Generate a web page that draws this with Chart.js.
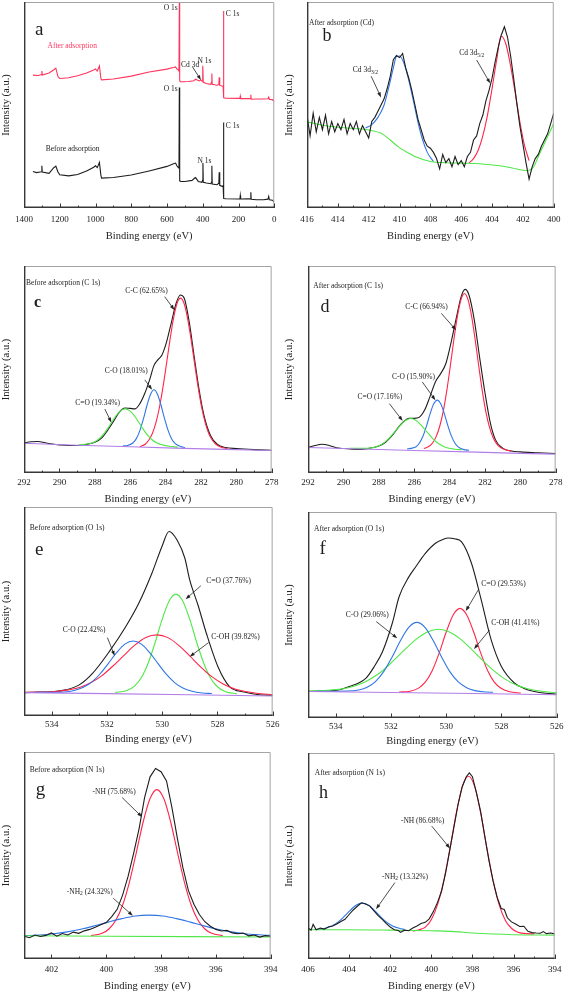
<!DOCTYPE html>
<html>
<head>
<meta charset="utf-8">
<script src="https://cdn.jsdelivr.net/npm/chart.js@4.4.0/dist/chart.umd.min.js"></script>
<style>
  body { margin: 0; background: #fff; width: 567px; height: 992px; position: relative; overflow: hidden; }
  canvas { position: absolute; }
</style>
</head>
<body>
<canvas id="pa"></canvas>
<canvas id="pb"></canvas>
<canvas id="pc"></canvas>
<canvas id="pd"></canvas>
<canvas id="pe"></canvas>
<canvas id="pf"></canvas>
<canvas id="pg"></canvas>
<canvas id="ph"></canvas>
<script>
// ---- data: [binding energy (eV), intensity (a.u., 0-100 of frame)] ----

// (a) survey spectra
const surveyBefore = [[1350,17.7],[1330,17.2],[1310,17.5],[1302,17.6],[1300,20.5],[1298,17.4],[1260,16.8],[1235,19.5],[1222,20.3],[1210,17.5],[1200,16.1],[1150,15.6],[1100,16.3],[1050,18],[1010,19.8],[1000,20.5],[990,19.6],[978,22.1],[970,16],[966,14.5],[900,14.8],[800,16],[700,18],[600,20.2],[560,21.6],[552,21.8],[545,20.5],[535,19.5],[533,20],[531,58.5],[529,13.2],[522,12.9],[500,12.9],[460,13.4],[442,14.8],[438,14.5],[425,12.9],[405,12.5],[401,13.5],[399,21.8],[397,12.5],[380,12.1],[355,11.8],[351,12.5],[349,20.5],[347,11.6],[320,11.3],[310,12],[308,17.3],[305,11],[292,10.5],[286,10.8],[284,41.5],[282,4.6],[270,4.5],[200,4.4],[192,4.5],[190,6.1],[188,4.4],[140,4.5],[133,4.4],[131,7.6],[129,4.2],[100,4.0],[60,4.0],[35,4.3],[31,5.6],[27,4],[10,3.8],[0,2.9]];
const surveyAfter = [[1350,64.5],[1320,64.3],[1302,64.8],[1300,66.5],[1298,64.6],[1260,65.5],[1235,67],[1222,67.9],[1210,63.8],[1200,62.9],[1150,63.2],[1100,64.2],[1050,65.5],[1010,67],[1000,67.5],[990,66.5],[978,69],[970,63],[966,62.2],[900,62.6],[800,64],[700,66],[600,67.4],[560,68.3],[552,68.5],[545,67.5],[535,66.8],[533,66.5],[531,99.5],[529,62],[526,61.3],[510,61.3],[480,61.4],[450,61.8],[440,62.5],[420,61.7],[410,62.2],[404,61.5],[401,62.5],[399,69],[397,61],[380,60.4],[355,60],[351,61],[349,65.3],[347,60],[320,59.6],[310,60],[308,63.4],[305,59.5],[292,59.2],[286,59],[284,95.6],[282,53.5],[270,53.3],[200,53.2],[192,53.3],[190,54.3],[188,53.1],[140,53.1],[133,53],[131,55],[129,52.8],[100,52.9],[60,52.9],[35,53],[31,53.8],[27,52.7],[10,52.6],[0,51.6]];

// (b) Cd 3d after adsorption
const cdRaw = [[416,45],[415.8,35],[415.6,46],[415.4,37],[415.2,44],[415,38],[414.8,45],[414.6,36],[414.4,42],[414.2,37],[414,41],[413.8,38],[413.6,43],[413.4,36],[413.2,41],[413,38],[412.8,42],[412.6,36],[412.4,40],[412.2,37],[412,34],[411.8,42],[411.6,44],[411.4,47],[411.2,50],[411,53],[410.8,58],[410.6,64],[410.4,72],[410.2,74],[410,73],[409.8,75],[409.6,68],[409.4,63],[409.2,57],[409,50],[408.8,43],[408.6,38],[408.4,33],[408.2,30],[408,29],[407.8,27],[407.6,24],[407.4,19],[407.2,26],[407,22],[406.8,24],[406.6,20],[406.4,25],[406.2,21],[406,23],[405.8,20],[405.6,25],[405.4,27],[405.2,33],[405,35],[404.8,41],[404.6,45],[404.4,52],[404.2,57],[404,63],[403.8,71],[403.6,78],[403.4,84],[403.2,88],[403,83],[402.8,74],[402.6,63],[402.4,51],[402.2,40],[402,31],[401.8,22],[401.6,14],[401.4,20],[401.2,24],[401,26],[400.8,30],[400.6,33],[400.4,36],[400.2,41],[400,46]];
const cdFit32 = [[412.2,38.8],[411.8,40.5],[411.4,44],[411,50],[410.7,58.5],[410.4,68],[410.2,73.5],[410,73.8],[409.7,70],[409.4,62],[409.1,52],[408.8,41.5],[408.5,33],[408.2,27],[407.8,22.5]];
const cdFit52 = [[405.5,21.9],[405.2,24],[404.9,28],[404.6,35],[404.3,45],[404,58],[403.7,72],[403.42,83.5],[403.1,79.5],[402.8,69],[402.5,56],[402.2,42],[401.9,30.5],[401.6,23]];
const cdBack = [[416,41.8],[415,40.2],[414,39.2],[413,38.6],[412,37.9],[411.2,36.3],[410.6,33],[410.1,29.8],[409.5,27],[409,25],[408,22.6],[407,22],[406,21.8],[404.8,21.5],[403.5,20.5],[402.7,19.4],[401.7,18.2],[401.3,20],[401,25],[400.5,33],[400,41]];

// (c) C 1s before adsorption
const c1sBefore = [[292,14.5],[291.6,15.1],[291.2,15.2],[290.8,14.6],[290.4,14],[290,13.6],[289.5,13.3],[289,13.3],[288.5,13.8],[288,14.8],[287.6,17],[287.2,21.5],[286.9,25.5],[286.6,29.5],[286.3,31.4],[286,31.2],[285.72,31],[285.45,33.5],[285.17,38.5],[284.9,45],[284.65,52],[284.4,55],[284.2,57],[283.96,62.7],[283.68,72.3],[283.4,82],[283.16,86],[282.94,84.4],[282.66,73],[282.38,56.3],[282.1,40.2],[281.83,28],[281.45,18],[281.08,13.9],[280.6,12.3],[280,11.8],[279,11.3],[278,11]];
const c1sBeforeCC = [[285.45,12.7],[285.15,13.9],[284.95,15.8],[284.75,19],[284.55,24.1],[284.35,31.4],[284.15,41.1],[283.95,52.4],[283.75,64.2],[283.55,74.6],[283.35,81.9],[283.15,84.5],[282.95,81.9],[282.75,74.6],[282.55,64.2],[282.35,52.4],[282.15,41.1],[281.95,31.4],[281.75,24.1],[281.55,19],[281.35,15.8],[281.15,13.9],[280.85,12.4],[280.5,11.8]];
const c1sBeforeCO = [[286.4,13.1],[286.15,13.3],[285.85,14.5],[285.65,16.6],[285.45,20.5],[285.25,26.1],[285.05,32.6],[284.85,37.9],[284.65,40.2],[284.45,37.9],[284.25,32.6],[284.05,26.1],[283.85,20.5],[283.65,16.4],[283.45,14.2],[283.15,12.8],[282.9,12.3]];
const c1sBeforeCdO = [[288.9,13.6],[288.38,14],[288.08,14.7],[287.78,16.3],[287.48,19],[287.18,22.7],[286.88,26.7],[286.58,29.8],[286.28,31],[285.98,29.8],[285.68,26.7],[285.38,22.7],[285.08,19],[284.78,16.2],[284.48,14.5],[284.18,13.6],[283.78,12.9],[283.3,12.5]];
const c1sBeforeBase = [[292,14.4],[289,13.4],[286,12.7],[283,11.9],[280,11.3],[278,10.9]];

// (d) C 1s after adsorption
const c1sAfter = [[292,12.3],[291.6,13.3],[291.2,13.9],[290.8,13.3],[290.4,12.2],[290,11.8],[289.5,11.5],[289,11.4],[288.5,12],[288,13],[287.6,15],[287.2,18.5],[286.9,22],[286.6,24.8],[286.3,26.4],[286,26.4],[285.7,27],[285.4,30.5],[285.1,37],[284.8,44],[284.5,48],[284.2,53],[283.9,63.5],[283.6,75.5],[283.35,85],[283.12,88.7],[282.9,86],[282.6,74],[282.3,56],[282,39],[281.7,24.5],[281.4,16],[281,12],[280.5,10.6],[280,10.2],[279,9.8],[278,9.4]];
const c1sAfterCC = [[285.45,11.8],[285.15,12.9],[284.95,14.6],[284.75,17.7],[284.55,22.7],[284.35,30],[284.15,40],[283.95,52],[283.75,64.6],[283.55,75.9],[283.35,83.8],[283.15,86.7],[282.95,83.6],[282.75,75.7],[282.55,64.4],[282.35,51.8],[282.15,39.8],[281.95,29.8],[281.75,22.4],[281.55,17.4],[281.35,14.3],[281.15,12.5],[280.85,11.2],[280.5,10.6]];
const c1sAfterCO = [[286.4,11.6],[286.19,11.9],[285.89,12.7],[285.69,14.6],[285.49,18],[285.29,23],[285.09,28.8],[284.89,33.4],[284.69,35.2],[284.49,33.3],[284.29,28.6],[284.09,22.8],[283.89,17.8],[283.69,14.4],[283.49,12.5],[283.19,11.3],[282.9,11]];
const c1sAfterCdO = [[289.7,11.9],[288.69,11.9],[288.29,12.3],[287.99,13.2],[287.69,14.7],[287.39,17],[287.09,20],[286.79,23],[286.49,25.4],[286.19,26.3],[285.89,25.4],[285.59,23],[285.29,20],[284.99,17],[284.69,14.6],[284.39,13.1],[284.09,12.1],[283.69,11.5],[283.3,11.2]];
const c1sAfterBase = [[292,12.3],[289,11.6],[286,10.9],[283,10.2],[280,9.5],[278,9.1]];

// (e) O 1s before adsorption
const o1sBefore = [[535,11.2],[534.5,11.4],[534,11.6],[533.5,12.5],[533,14.9],[532.52,20.4],[531.92,30.7],[531.32,42.7],[530.85,53.8],[530.37,68.3],[530.01,81],[529.75,88.3],[529.45,84],[529.18,75.6],[529,65],[528.7,53],[528.4,39.6],[527.98,23.6],[527.56,14.1],[527.03,11.5],[526.5,10.2],[526,9.9]];
const o1sBeforeCdO = [[531.7,11.3],[531.3,12.1],[531,14.3],[530.75,18.4],[530.5,25.5],[530.25,35.3],[530,46.2],[529.75,54.9],[529.5,58.3],[529.25,54.9],[529,46.2],[528.75,35.3],[528.5,25.5],[528.25,18.2],[528,14],[527.7,11.6],[527.3,10.6]];
const o1sBeforeCO = [[534.6,11.3],[533.55,11.5],[533.15,12.3],[532.85,13.7],[532.55,16.2],[532.25,20.1],[531.95,25.1],[531.65,30.3],[531.35,34.4],[531.05,35.9],[530.75,34.4],[530.45,30.3],[530.15,25.1],[529.85,20],[529.55,16],[529.25,13.4],[528.95,12],[528.55,11],[528.2,10.8]];
const o1sBeforeCOH = [[535,11.3],[534.39,11.4],[533.79,11.8],[533.39,12.5],[532.99,13.6],[532.59,15.9],[532.19,19.2],[531.79,23.8],[531.39,28.9],[530.99,33.9],[530.59,37.6],[530.19,38.8],[529.79,37.5],[529.39,33.7],[528.99,28.6],[528.59,23.3],[528.19,18.7],[527.79,15.3],[527.39,13],[526.99,11.7],[526.59,10.9],[526,10.2]];
const o1sBeforeBase = [[535,11.2],[532,10.7],[529,10.2],[526,9.6]];

// (f) O 1s after adsorption
const o1sAfter = [[535,12.9],[534.5,13.1],[534,13.4],[533.5,15.3],[532.9,19.4],[532.6,25],[532.3,32.3],[531.95,46],[531.7,59],[531.35,68.5],[531.1,73.4],[530.76,79.8],[530.4,84.7],[530.1,86.8],[529.92,87.4],[529.7,87],[529.44,85.5],[529.08,75],[528.73,57.3],[528.37,37.9],[528,25],[527.53,17],[527.2,14.5],[526.81,12.9],[526.4,12],[526,11.6]];
const o1sAfterCO = [[534.7,13],[533.56,13.1],[533.16,13.6],[532.86,14.9],[532.56,17.7],[532.26,22.5],[531.96,29.5],[531.66,37.4],[531.36,43.9],[531.06,46.4],[530.76,43.9],[530.46,37.4],[530.16,29.5],[529.86,22.4],[529.56,17.5],[529.26,14.7],[528.96,13.3],[528.56,12.6],[528.3,12.5]];
const o1sAfterCOH = [[535,13.1],[534.48,13.3],[533.88,13.9],[533.48,14.9],[533.08,16.6],[532.68,19.4],[532.28,23.2],[531.88,28.2],[531.48,33.4],[531.08,38.3],[530.68,41.8],[530.28,43.1],[529.88,41.8],[529.48,38.3],[529.08,33.3],[528.68,28],[528.28,23],[527.88,19],[527.48,16.1],[527.08,14.3],[526.68,13.2],[526,12.2]];
const o1sAfterCdO = [[531.7,12.6],[531.3,13],[531,14.5],[530.75,17.5],[530.5,23.1],[530.25,31.6],[530,41.6],[529.75,49.9],[529.5,53.2],[529.25,49.9],[529,41.6],[528.75,31.6],[528.5,23.1],[528.25,17.3],[528,14.3],[527.7,12.7],[527.3,12.1]];
const o1sAfterBase = [[535,12.9],[532,12.4],[529,11.9],[526,11.3]];

// (g) N 1s before adsorption
const n1sBefore = [[403,11],[402.8,10.3],[402.6,11.6],[402.4,10.9],[402.2,11.4],[402,12.6],[401.8,11],[401.6,12.3],[401.4,11.6],[401.2,13],[401,12.4],[400.8,13.6],[400.6,14.3],[400.4,15.3],[400.2,16.6],[400,17.6],[399.8,20.5],[399.6,24],[399.4,31],[399.2,40],[399,51],[398.8,63],[398.6,78],[398.4,88],[398.2,92],[398,90.5],[397.8,86],[397.6,73],[397.4,58],[397.2,44],[397,33],[396.8,26.5],[396.6,21.5],[396.4,18],[396.2,15.8],[396,14.3],[395.8,13.5],[395.6,13.8],[395.4,12.6],[395.2,12.2],[395,12.5],[394.8,11.2],[394.6,11.6],[394.4,10.6],[394.2,11.3],[394,11]];
const n1sBeforeNH = [[400.55,11.3],[400.15,12.4],[399.9,14.5],[399.65,18.7],[399.4,26.1],[399.15,37.3],[398.9,51.5],[398.65,66.3],[398.4,77.5],[398.15,81.8],[397.9,77.5],[397.65,66.3],[397.4,51.5],[397.15,37.3],[396.9,26.1],[396.65,18.7],[396.4,14.5],[396.15,12.4],[395.75,11.3]];
const n1sBeforeNH2 = [[403,11.3],[402.43,11.6],[401.93,12.2],[401.43,13.1],[400.93,14.4],[400.43,16],[399.93,17.8],[399.43,19.5],[398.93,20.8],[398.43,21.2],[397.93,20.8],[397.43,19.5],[396.93,17.8],[396.43,16],[395.93,14.4],[395.43,13.1],[394.93,12.2],[394.43,11.7],[394,11.4]];
const n1sBeforeBase = [[403,11.2],[400,11],[397,10.8],[394,10.6]];

// (h) N 1s after adsorption
const n1sAfter = [[406,15.2],[405.85,14],[405.75,16.8],[405.6,14.2],[405.4,15],[405.2,14.5],[405,15.7],[404.8,16],[404.6,17],[404.4,18.2],[404.2,19.3],[404,21.6],[403.8,23.8],[403.6,25.6],[403.4,27.3],[403.2,26.7],[403,25.8],[402.8,23.5],[402.6,21.2],[402.4,19.4],[402.2,17.3],[402,15.5],[401.8,14.2],[401.6,13.8],[401.5,12.9],[401.3,14],[401.1,13.7],[400.9,15],[400.7,16],[400.5,17.2],[400.3,17.8],[400.1,19.5],[399.9,23],[399.7,27.5],[399.5,33],[399.3,42],[399.1,53],[398.9,64],[398.7,75],[398.5,83.5],[398.3,88.5],[398.15,90.3],[398,88.5],[397.8,80.5],[397.6,71.5],[397.4,59.5],[397.2,48],[397,38],[396.8,30],[396.6,24.5],[396.45,24],[396.3,20],[396.1,18],[395.9,17],[395.7,15.8],[395.5,15.9],[395.3,13.4],[395.1,12.8],[394.9,12.6],[394.7,12.5],[394.55,13.3],[394.4,12.3],[394.2,12.6],[394,12.2]];
const n1sAfterNH = [[400.9,13.6],[400.59,14.2],[400.29,15.5],[399.99,19.3],[399.69,26.6],[399.39,38.2],[399.09,53.8],[398.79,70.6],[398.49,83.8],[398.19,88.7],[397.89,83.7],[397.59,70.4],[397.29,53.5],[396.99,37.8],[396.69,26],[396.39,18.6],[396.09,14.8],[395.79,13],[395.4,12.3],[395,12.2]];
const n1sAfterNH2 = [[405.7,14.3],[405.46,14.4],[405.16,14.9],[404.86,15.9],[404.56,17.7],[404.26,20.4],[403.96,23.5],[403.66,26.1],[403.36,27.1],[403.06,26.1],[402.76,23.5],[402.46,20.4],[402.16,17.7],[401.86,15.9],[401.56,14.9],[401.3,14.3]];
const n1sAfterBase = [[406,14.2],[404,14.2],[402,14],[400,13.7],[399,13.4],[398,12.6],[397,12.1],[396,11.8],[394,11.6]];

// ---- styling ----
const SERIF = '"Liberation Serif", "Times New Roman", serif';
const INK = '#1d1d1d';
const RED = 'rgb(255,36,72)';
const BLUE = 'rgb(48,118,228)';
const GREEN = 'rgb(80,232,72)';
const PURPLE = 'rgb(178,126,232)';

function series(pts, color, smooth) {
  return {
    data: pts.map(p => ({ x: p[0], y: p[1] })),
    borderColor: color,
    borderWidth: 1.1,
    pointRadius: 0,
    fill: false,
    tension: 0,
    cubicInterpolationMode: smooth ? 'monotone' : 'default'
  };
}

// frame, inward ticks, peak labels and arrows
const decor = {
  id: 'decor',
  afterDraw(chart, args, o) {
    const { ctx, chartArea: a } = chart;
    const x = chart.scales.x, y = chart.scales.y;
    ctx.save();

    ctx.strokeStyle = '#a4a4a4';
    ctx.lineWidth = 1;
    ctx.beginPath();
    ctx.moveTo(a.left, a.top + 0.5);
    ctx.lineTo(a.right - 0.5, a.top + 0.5);
    ctx.lineTo(a.right - 0.5, a.bottom);
    ctx.stroke();

    ctx.strokeStyle = '#383838';
    ctx.lineWidth = 1.4;
    ctx.beginPath();
    ctx.moveTo(a.left + 0.7, a.top);
    ctx.lineTo(a.left + 0.7, a.bottom - 0.7);
    ctx.lineTo(a.right, a.bottom - 0.7);
    ctx.stroke();

    ctx.lineWidth = 1;
    ctx.beginPath();
    for (let v = Math.ceil(x.min / o.minor) * o.minor; v <= x.max + 1e-9; v += o.minor) {
      const px = Math.round(x.getPixelForValue(v)) + 0.5;
      const major = Math.abs(v / o.major - Math.round(v / o.major)) < 1e-6;
      ctx.moveTo(px, a.bottom);
      ctx.lineTo(px, a.bottom - (major ? 4.5 : 2.5));
    }
    ctx.stroke();

    ctx.textBaseline = 'middle';
    ctx.textAlign = 'left';
    (o.labels || []).forEach(l => {
      const size = l.size || 7.5;
      const main = `${l.bold ? 'bold ' : ''}${size}px ${SERIF}`;
      const small = `5.5px ${SERIF}`;
      ctx.font = main;
      let w = ctx.measureText(l.t).width;
      ctx.font = small;
      const ws = l.sub ? ctx.measureText(l.sub).width : 0;
      ctx.font = main;
      const wt = l.tail ? ctx.measureText(l.tail).width : 0;
      let px = x.getPixelForValue(l.x);
      const py = y.getPixelForValue(l.y);
      if (l.align === 'right') px -= w + ws + wt;
      ctx.fillStyle = l.color || INK;
      ctx.fillText(l.t, px, py);
      if (l.sub) {
        ctx.font = small;
        ctx.fillText(l.sub, px + w, py + 2.2);
        ctx.font = main;
      }
      if (l.tail) ctx.fillText(l.tail, px + w + ws, py);
    });

    ctx.strokeStyle = '#222';
    ctx.fillStyle = '#222';
    ctx.lineWidth = 0.8;
    (o.arrows || []).forEach(r => {
      const x1 = x.getPixelForValue(r[0]), y1 = y.getPixelForValue(r[1]);
      const x2 = x.getPixelForValue(r[2]), y2 = y.getPixelForValue(r[3]);
      const ang = Math.atan2(y2 - y1, x2 - x1);
      ctx.beginPath();
      ctx.moveTo(x1, y1);
      ctx.lineTo(x2 - 3 * Math.cos(ang), y2 - 3 * Math.sin(ang));
      ctx.stroke();
      ctx.beginPath();
      ctx.moveTo(x2, y2);
      ctx.lineTo(x2 - 5 * Math.cos(ang) + 1.8 * Math.sin(ang), y2 - 5 * Math.sin(ang) - 1.8 * Math.cos(ang));
      ctx.lineTo(x2 - 5 * Math.cos(ang) - 1.8 * Math.sin(ang), y2 - 5 * Math.sin(ang) + 1.8 * Math.cos(ang));
      ctx.closePath();
      ctx.fill();
    });
    ctx.restore();
  }
};

const panels = [
  { id: 'pa', left: 0, top: 0, w: 283, h: 243, padTop: 2, padRight: 8, yw: 24, axisH: 35, tickPad: 6.5,
    min: 0, max: 1400, major: 200, minor: 100,
    sets: [series(surveyBefore, INK), series(surveyAfter, 'rgb(255,52,92)')],
    labels: [
      { x: 1339, y: 86.6, t: 'a', size: 19 },
      { x: 540, y: 97, t: 'O 1s', align: 'right' },
      { x: 271, y: 94.4, t: 'C 1s' },
      { x: 521, y: 69.4, t: 'Cd 3d' },
      { x: 429, y: 71.3, t: 'N 1s' },
      { x: 1268, y: 78.5, t: 'After adsorption', color: 'rgb(255,52,92)' },
      { x: 1279, y: 28.5, t: 'Before adsorption' },
      { x: 540, y: 57.6, t: 'O 1s', align: 'right' },
      { x: 271, y: 39.8, t: 'C 1s' },
      { x: 429, y: 23, t: 'N 1s' }
    ],
    arrows: [[457, 68.5, 410, 62.1]] },
  { id: 'pb', left: 283, top: 0, w: 284, h: 243, padTop: 2, padRight: 9, yw: 24, axisH: 35, tickPad: 6.5,
    min: 400, max: 416, major: 2, minor: 1,
    sets: [series(cdRaw, INK), series(cdBack, GREEN, true), series(cdFit32, BLUE, true), series(cdFit52, RED, true)],
    labels: [
      { x: 415.87, y: 89.8, t: 'After adsorption (Cd)' },
      { x: 415.0, y: 83.4, t: 'b', size: 18 },
      { x: 413.03, y: 66.9, t: 'Cd 3d', sub: '3/2' },
      { x: 406.13, y: 75, t: 'Cd 3d', sub: '5/2' }
    ],
    arrows: [[411.84, 64, 411.2, 53.7], [405.0, 71.8, 404.12, 60.5]] },
  { id: 'pc', left: 0, top: 264, w: 283, h: 242, padTop: 2, padRight: 8, yw: 24, axisH: 33, tickPad: 4.6,
    min: 278, max: 292, major: 2, minor: 1,
    sets: [series(c1sBeforeBase, PURPLE), series(c1sBeforeCdO, GREEN, true), series(c1sBeforeCO, BLUE, true), series(c1sBeforeCC, RED, true), series(c1sBefore, INK, true)],
    labels: [
      { x: 291.89, y: 91.6, t: 'Before adsorption (C 1s)' },
      { x: 291.44, y: 82.3, t: 'c', size: 16, bold: true },
      { x: 286.28, y: 88.1, t: 'C-C (62.65%)' },
      { x: 287.43, y: 49.5, t: 'C-O (18.01%)' },
      { x: 289.1, y: 33.8, t: 'C=O (19.34%)' }
    ],
    arrows: [[284.05, 85.2, 283.5, 78.8], [285.17, 45, 284.76, 40.2], [287.43, 30.9, 287.06, 24.4]] },
  { id: 'pd', left: 283, top: 264, w: 284, h: 242, padTop: 2, padRight: 8, yw: 25, axisH: 33, tickPad: 4.6,
    min: 278, max: 292, major: 2, minor: 1,
    sets: [series(c1sAfterBase, PURPLE), series(c1sAfterCdO, GREEN, true), series(c1sAfterCO, BLUE, true), series(c1sAfterCC, RED, true), series(c1sAfter, INK, true)],
    labels: [
      { x: 291.7, y: 90.3, t: 'After adsorption (C 1s)' },
      { x: 291.3, y: 80, t: 'd', size: 18 },
      { x: 286.5, y: 80, t: 'C-C (66.94%)' },
      { x: 287.25, y: 46.5, t: 'C-O (15.90%)' },
      { x: 289.2, y: 36.8, t: 'C=O (17.16%)' }
    ],
    arrows: [[284.46, 77.1, 283.63, 69], [285.54, 44, 284.8, 35.2], [287.4, 33.5, 286.65, 25.2]] },
  { id: 'pe', left: 0, top: 505, w: 283, h: 241, padTop: 2, padRight: 8, yw: 24, axisH: 30, tickPad: 3.6,
    min: 526, max: 535, major: 2, minor: 1,
    sets: [series(o1sBeforeBase, PURPLE), series(o1sBeforeCO, BLUE, true), series(o1sBeforeCOH, RED, true), series(o1sBeforeCdO, GREEN, true), series(o1sBefore, INK, true)],
    labels: [
      { x: 534.79, y: 89.9, t: 'Before adsorption (O 1s)' },
      { x: 534.6, y: 79.2, t: 'e', size: 19 },
      { x: 528.4, y: 64.4, t: 'C=O (37.76%)' },
      { x: 528.22, y: 38, t: 'C-OH (39.82%)' },
      { x: 533.6, y: 41.2, t: 'C-O (22.42%)' }
    ],
    arrows: [[528.6, 62.3, 529.15, 55.9], [528.32, 35.1, 529.0, 28.4], [531.98, 37.5, 531.72, 28.8]] },
  { id: 'pf', left: 283, top: 510, w: 284, h: 238, padTop: 2, padRight: 8, yw: 25, axisH: 30, tickPad: 3.6,
    min: 526, max: 535, major: 2, minor: 1,
    sets: [series(o1sAfterBase, PURPLE), series(o1sAfterCO, BLUE, true), series(o1sAfterCOH, GREEN, true), series(o1sAfterCdO, RED, true), series(o1sAfter, INK, true)],
    xTitle: 'Bingding energy (eV)',
    labels: [
      { x: 534.78, y: 91.5, t: 'After adsorption (O 1s)' },
      { x: 534.58, y: 81.8, t: 'f', size: 19 },
      { x: 528.73, y: 65, t: 'C=O (29.53%)' },
      { x: 528.37, y: 46.3, t: 'C-OH (41.41%)' },
      { x: 533.63, y: 50, t: 'C-O (29.06%)' }
    ],
    arrows: [[528.84, 62.1, 529.29, 51.9], [528.43, 42.7, 528.99, 33.5], [532.53, 46.8, 531.77, 38.7]] },
  { id: 'pg', left: 0, top: 750, w: 283, h: 243, padTop: 2, padRight: 8, yw: 24, axisH: 34, tickPad: 5.6,
    min: 394, max: 403, major: 2, minor: 1,
    sets: [series(n1sBefore, INK), series(n1sBeforeBase, GREEN), series(n1sBeforeNH2, BLUE, true), series(n1sBeforeNH, RED, true)],
    labels: [
      { x: 402.79, y: 91.2, t: 'Before adsorption (N 1s)' },
      { x: 402.57, y: 81.5, t: 'g', size: 19 },
      { x: 400.5, y: 80.7, t: '-NH (75.68%)' },
      { x: 401.44, y: 32.5, t: '-NH', sub: '2', tail: ' (24.32%)' }
    ],
    arrows: [[399.42, 78, 398.69, 68.6], [399.74, 29.3, 399.03, 20.9]] },
  { id: 'ph', left: 283, top: 750, w: 284, h: 243, padTop: 3, padRight: 8, yw: 25, axisH: 34, tickPad: 5.6,
    min: 394, max: 406, major: 2, minor: 1,
    sets: [series(n1sAfter, INK), series(n1sAfterBase, GREEN, true), series(n1sAfterNH2, BLUE, true), series(n1sAfterNH, RED, true)],
    labels: [
      { x: 405.67, y: 90.3, t: 'After adsorption (N 1s)' },
      { x: 405.46, y: 80.6, t: 'h', size: 18 },
      { x: 401.48, y: 67.1, t: '-NH (86.68%)' },
      { x: 402.4, y: 40, t: '-NH', sub: '2', tail: ' (13.32%)' }
    ],
    arrows: [[399.98, 64.5, 399.09, 53.7], [401.77, 37.1, 402.69, 24.2]] }
];

panels.forEach(p => {
  const cv = document.getElementById(p.id);
  cv.width = p.w;
  cv.height = p.h;
  cv.style.left = p.left + 'px';
  cv.style.top = p.top + 'px';
  new Chart(cv, {
    type: 'line',
    data: { datasets: p.sets },
    plugins: [decor],
    options: {
      responsive: false,
      animation: false,
      devicePixelRatio: 1,
      layout: { padding: { top: p.padTop, right: p.padRight, left: 0, bottom: 0 } },
      plugins: {
        legend: { display: false },
        tooltip: { enabled: false },
        decor: { major: p.major, minor: p.minor, labels: p.labels, arrows: p.arrows }
      },
      scales: {
        x: {
          type: 'linear',
          reverse: true,
          min: p.min,
          max: p.max,
          border: { display: false },
          grid: { display: false, drawTicks: false },
          ticks: {
            stepSize: p.major,
            includeBounds: false,
            autoSkip: false,
            maxRotation: 0,
            padding: p.tickPad,
            color: '#222',
            font: { family: SERIF, size: 9 },
            callback: v => String(v)
          },
          title: {
            display: true,
            text: p.xTitle || 'Binding energy (eV)',
            color: '#222',
            padding: 0,
            font: { family: SERIF, size: 10.5 }
          },
          afterFit: s => { s.height = p.axisH; }
        },
        y: {
          min: 0,
          max: 100,
          border: { display: false },
          grid: { display: false, drawTicks: false },
          ticks: { display: false },
          title: {
            display: true,
            text: 'Intensity (a.u.)',
            color: '#222',
            padding: 0,
            font: { family: SERIF, size: 10.5 }
          },
          afterFit: s => { s.width = p.yw; }
        }
      }
    }
  });
});
</script>
</body>
</html>
